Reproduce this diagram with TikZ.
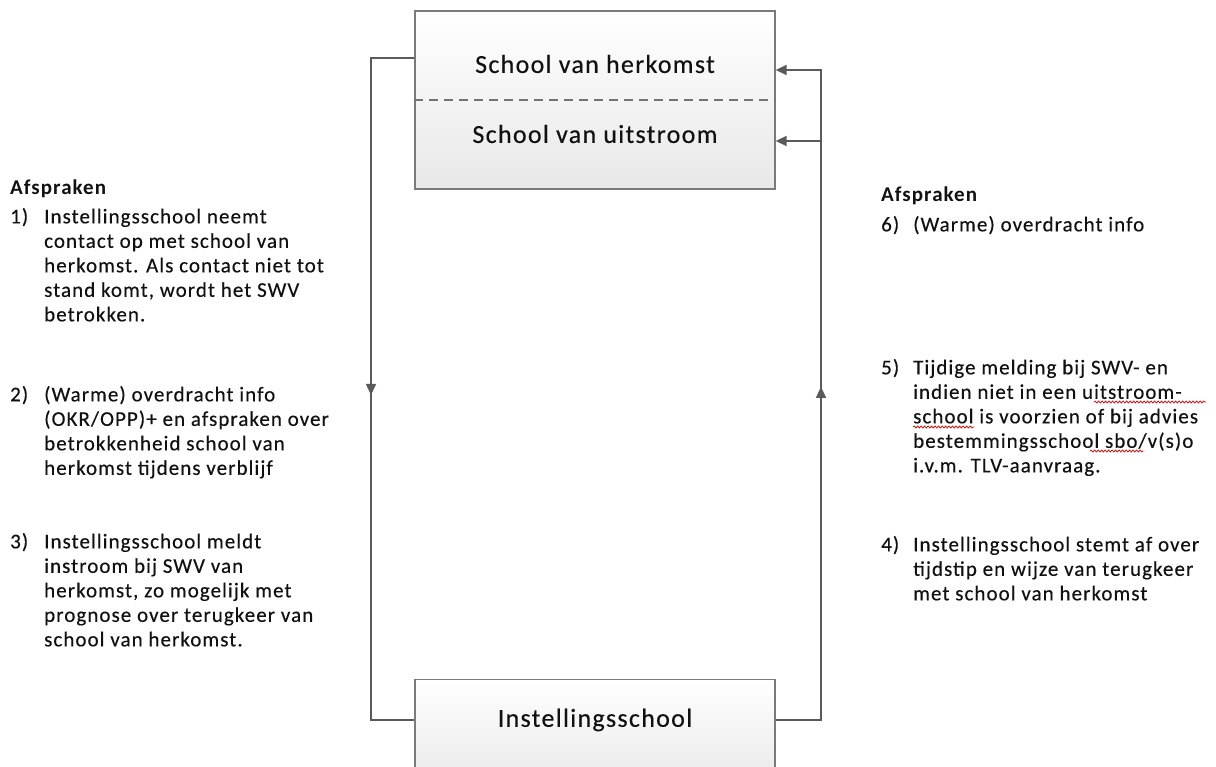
\documentclass[tikz,border=0pt]{standalone}
\usepackage{fontspec}
\setmainfont{Carlito}[LetterSpace=5, UprightFeatures={FakeBold=0.3}]
\usetikzlibrary{arrows.meta,decorations.markings,decorations.pathmorphing}
\definecolor{txtc}{HTML}{111111}
\definecolor{linec}{HTML}{5A5A5A}
\definecolor{boxc}{HTML}{7A7A7A}
\begin{document}
\begin{tikzpicture}[x=1pt,y=-1pt,
  txt/.style={inner sep=0pt, anchor=north west, align=left, font=\fontsize{21}{24.5}\selectfont, text=txtc},
  hd/.style={txt, font=\fontsize{21}{24.5}\selectfont\bfseries},
  box/.style={draw=boxc, line width=1.3pt, top color=white, bottom color=black!9, minimum width=360pt, inner sep=0pt},
  title/.style={font=\fontsize{26}{30}\selectfont, text=txtc, inner sep=0pt},
  conn/.style={draw=linec, line width=1.5pt},
  tip/.style={-{Triangle[length=11pt,width=10pt]}},
  midarrow/.style={postaction={decorate}, decoration={markings, mark=at position #1 with {\arrow{Triangle[length=11pt,width=10pt]}}}},
  squig/.style={draw=red!85!black, line width=0.7pt, decorate, decoration={snake, amplitude=1pt, segment length=3.5pt}}]
\clip (0,0) rectangle (1216,767);
\fill[white] (0,0) rectangle (1216,767);

% boxes
\node[box, minimum height=178pt] (top) at (595,100) {};
\coordinate (dy) at (0,100);
\draw[draw=linec!85, line width=1.3pt, dash pattern=on 9pt off 6pt] (top.west |- dy) -- (top.east |- dy);
\node[title] (herk) at (595,64) {School van herkomst};
\node[title] (uit) at (595,134) {School van uitstroom};

\node[box, minimum height=110pt, anchor=north] (inst) at (595,679) {};
\node[title] (instl) at (595,720) {Instellingsschool};

% connectors
\coordinate (yl) at (0,58);
\coordinate (xl) at (371,0);
\draw[conn, midarrow=0.508] (top.west |- yl) -| (xl |- instl) -- (instl -| inst.west);

\coordinate (xr) at (821,0);
\coordinate (yr1) at (0,70);
\coordinate (yr2) at (0,141);
\draw[conn, tip, midarrow=0.511] (instl -| inst.east) -| (xr |- yr1) -- (top.east |- yr1);
\draw[conn, tip] (xr |- yr2) -- (top.east |- yr2);

% left text
\node[hd] (lh) at (10,177) {\strut Afspraken};
\node[txt] (n1) at (10,206) {\strut 1)};
\node[txt] (t1) at (44,206) {\strut Instellingsschool neemt\\contact op met school van\\herkomst. Als contact niet tot\\stand komt, wordt het SWV\\betrokken.};
\node[txt] (n2) at (10,384) {\strut 2)};
\node[txt] (t2) at (44,384) {\strut (Warme) overdracht info\\(OKR/OPP)+ en afspraken over\\betrokkenheid school van\\herkomst tijdens verblijf};
\node[txt] (n3) at (10,531) {\strut 3)};
\node[txt] (t3) at (44,531) {\strut Instellingsschool meldt\\instroom bij SWV van\\herkomst, zo mogelijk met\\prognose over terugkeer van\\school van herkomst.};

% right text
\node[hd] (rh) at (881,184) {\strut Afspraken};
\node[txt] (n6) at (881,214) {\strut 6)};
\node[txt] (t6) at (913,214) {\strut (Warme) overdracht info};
\node[txt] (n5) at (881,357) {\strut 5)};
\node[txt] (t5) at (913,357) {\strut Tijdige melding bij SWV- en\\indien niet in een uitstroom-\\school is voorzien of bij advies\\bestemmingsschool sbo/v(s)o\\i.v.m. TLV-aanvraag.};
\node[txt] (n4) at (881,534) {\strut 4)};
\node[txt] (t4) at (913,534) {\strut Instellingsschool stemt af over\\tijdstip en wijze van terugkeer\\met school van herkomst};

% spelling marks
\draw[squig] (1094,402) -- (1206,402);
\draw[squig] (913,427) -- (974,427);
\draw[squig] (1090,451) -- (1143,451);
\end{tikzpicture}
\end{document}
